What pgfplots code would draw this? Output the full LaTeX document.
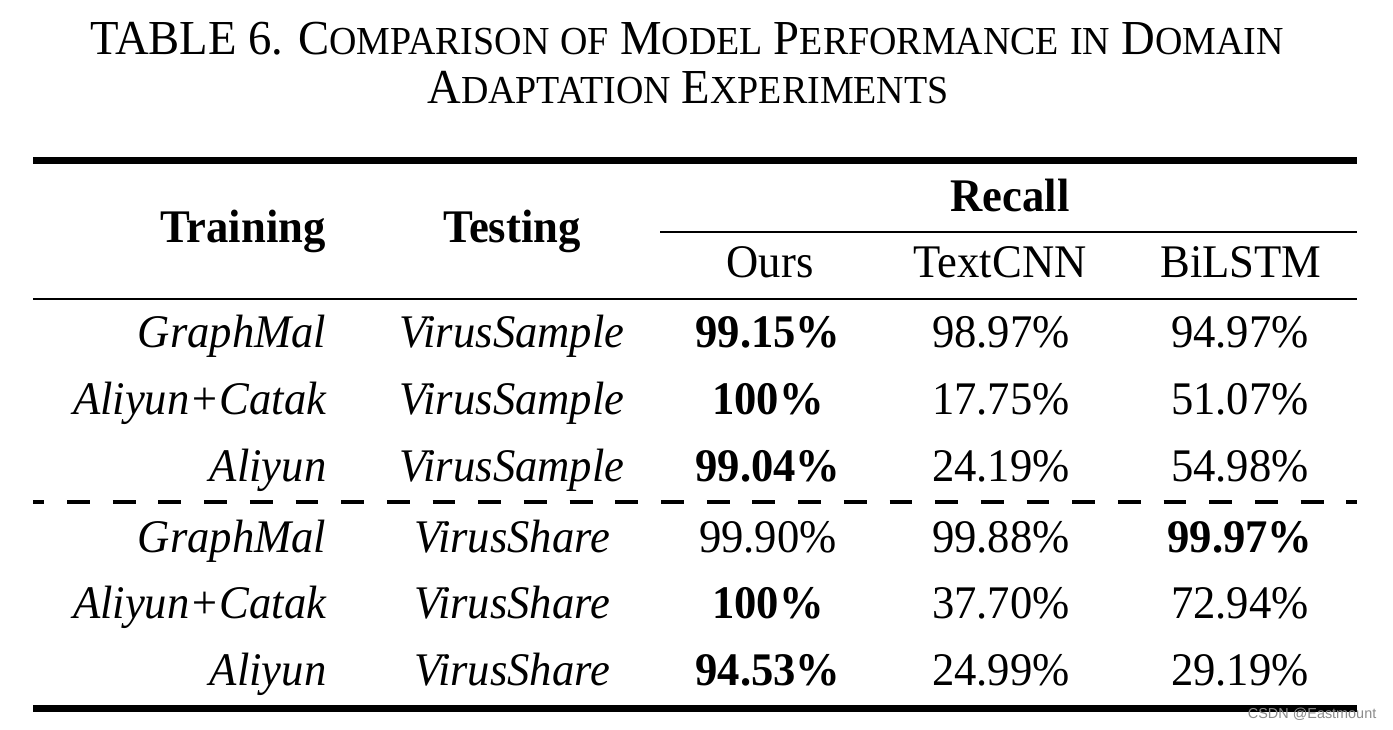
\documentclass[border=0pt]{standalone}
\usepackage{fontspec}
\setmainfont{Liberation Serif}[FakeStretch=0.955]
\newfontfamily\wmfont{Liberation Sans}
\usepackage{pgfplots}
\usepackage{pgfplotstable}
\pgfplotsset{compat=1.18}

\newcommand\body{\fontsize{13.3}{15}\selectfont}
% fake small caps: first letter big, rest small
\newcommand\SC[2]{{\fontsize{13.9}{15}\selectfont #1}{\fontsize{11.3}{13}\selectfont #2}}

% text cells, in pixel coordinates of the 1393x730 picture
\pgfplotstableread{
x y label
327 348 GraphMal
327 415 Aliyun+Catak
327 482 Aliyun
327 553 GraphMal
327 619 Aliyun+Catak
327 686 Aliyun
}\training

\pgfplotstableread{
x y label
512 348 VirusSample
512 415 VirusSample
512 482 VirusSample
512 553 VirusShare
512 619 VirusShare
512 686 VirusShare
}\testing

\pgfplotstableread{
x y label
1001 348 98.97
1240 348 94.97
1001 415 17.75
1240 415 51.07
1001 482 24.19
1240 482 54.98
768 553 99.90
1001 553 99.88
1001 619 37.70
1240 619 72.94
1001 686 24.99
1240 686 29.19
}\plain

\pgfplotstableread{
x y label
768 348 99.15
768 415 100
768 482 99.04
1240 553 99.97
768 619 100
768 686 94.53
}\best

\pgfplotstableread{
x y label
243 243 Training
512 243 Testing
1010 212 Recall
}\boldhead

\pgfplotstableread{
x y label
770 278 Ours
1000 278 TextCNN
1241 278 BiLSTM
}\subhead

\begin{document}
\begin{tikzpicture}
\begin{axis}[
  scale only axis, width=13.93cm, height=7.30cm,
  xmin=0, xmax=1393, ymin=0, ymax=730, y dir=reverse,
  hide axis, clip=false,
  every node near coord/.append style={inner sep=0pt, anchor=base, font=\body},
]
\addplot[draw=none, fill=white] coordinates {(0,0) (1393,0) (1393,730) (0,730)};

% rules
\addplot[black, line width=2pt] coordinates {(33,160.5) (1357,160.5)};
\addplot[black, line width=0.6pt] coordinates {(660,232) (1357,232)};
\addplot[black, line width=0.7pt] coordinates {(33,299) (1357,299)};
\addplot[black, line width=0.9pt, dash pattern=on 6.5pt off 6.5pt, dash phase=3.3pt] coordinates {(33,502) (1357,502)};
\addplot[black, line width=2pt] coordinates {(33,708.5) (1357,708.5)};

% title
\addplot[draw=none, nodes near coords={\SC{TABLE 6.}{} \SC{C}{OMPARISON} \SC{}{OF} \SC{M}{ODEL} \SC{P}{ERFORMANCE} \SC{}{IN} \SC{D}{OMAIN}}] coordinates {(687,55)};
\addplot[draw=none, nodes near coords={\SC{A}{DAPTATION} \SC{E}{XPERIMENTS}}] coordinates {(688,104)};

% header
\addplot[draw=none, nodes near coords, point meta=explicit symbolic,
  every node near coord/.append style={font=\body\bfseries}] table[meta=label] {\boldhead};
\addplot[draw=none, nodes near coords, point meta=explicit symbolic] table[meta=label] {\subhead};

% body
\addplot[draw=none, nodes near coords, point meta=explicit symbolic,
  every node near coord/.append style={anchor=base east, font=\body\itshape}] table[meta=label] {\training};
\addplot[draw=none, nodes near coords, point meta=explicit symbolic,
  every node near coord/.append style={font=\body\itshape}] table[meta=label] {\testing};
\addplot[draw=none, nodes near coords={\pgfplotspointmeta\%}, point meta=explicit symbolic] table[meta=label] {\plain};
\addplot[draw=none, nodes near coords={\pgfplotspointmeta\%}, point meta=explicit symbolic,
  every node near coord/.append style={font=\body\bfseries}] table[meta=label] {\best};

% watermark
\addplot[draw=none, nodes near coords={CSDN @Eastmount},
  every node near coord/.append style={anchor=base east, text=black!45, font=\wmfont\fontsize{4.1}{5}\selectfont}] coordinates {(1377,719)};
\end{axis}
\end{tikzpicture}
\end{document}
